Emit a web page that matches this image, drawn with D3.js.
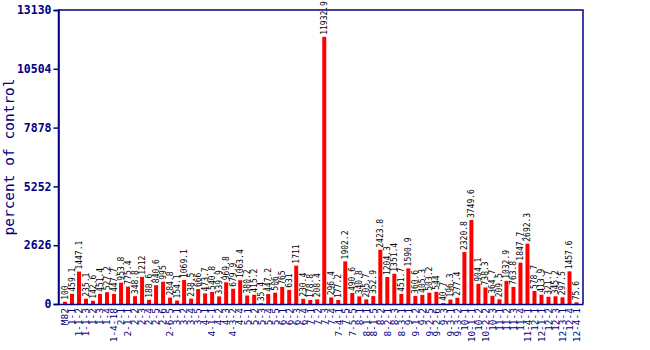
<!DOCTYPE html>
<html>
<head>
<meta charset="utf-8">
<script src="https://cdn.jsdelivr.net/npm/d3@7"></script>
<style>
  html, body { margin: 0; padding: 0; background: #ffffff; }
  svg { display: block; }
</style>
</head>
<body>
<svg id="chart" width="650" height="350"></svg>
<script>
const categories = ["M82","1-1","1-1-2","1-1-3","1-2","1-3","1-4","1-4-18","2-1","2-1-1","2-2","2-3","2-4","2-5","2-6","2-6-5","3-1","3-2","3-4","3-5","4-1","4-1-1","4-2","4-3","4-3-2","4-4","5-1","5-2","5-3","5-4","5-5","6-1","6-2","6-3","6-4","7-1","7-2","7-3","7-4","7-4-1","7-5","7-5-5","8-1","8-1-1","8-1-5","8-2","8-2-1","8-3","8-3-1","9-1","9-1-2","9-2","9-2-5","9-2-6","9-3","9-3-1","9-3-2","10-1","10-1-1","10-2","10-2-2","10-3","11-1","11-2","11-3","11-4","11-4-1","12-1","12-1-1","12-2","12-3","12-3-1","12-4","12-4-1"];
const values = [100,459.1,1447.1,235.1,142.6,451.4,527.2,447.7,953.8,775.4,348.8,1212,188.6,840.6,995,284.8,154.1,1069.1,238.5,666,473.7,540.8,339.9,969.8,679.9,1063.4,380.2,415.2,35.4,447.2,506,765,631,1711,230.4,178.8,208.4,11932.9,296.4,177.2,1902.2,490.6,340.8,205.7,352.9,2423.8,1204.3,1351.4,451.7,1590.9,360.6,405.3,503.2,544,40.7,196.3,277.4,2320.8,3749.6,904.1,738.3,364.7,209.5,1032.9,763.8,1847.7,2692.3,578.7,413.9,321.7,345.2,297.5,1457.6,75.6];
const yTicks = [0,2626,5252,7878,10504,13130];
const yTitle = "percent of control";

const mLeft = 58.5, mRight = 583, mTop = 10, mBottom = 304;
const navy = "#000080";
const mono = "'DejaVu Sans Mono', 'Liberation Mono', monospace";

const svg = d3.select("#chart");

const x = d3.scaleBand().domain(categories).range([mLeft, mRight])
  .paddingInner(0.43).paddingOuter(0.64);
const y = d3.scaleLinear().domain([0, 13130]).range([mBottom, mTop]);

const data = categories.map((c, i) => ({ c, v: values[i] }));

// bars
svg.append("g").selectAll("rect").data(data).join("rect")
  .attr("x", d => x(d.c))
  .attr("y", d => y(d.v))
  .attr("width", x.bandwidth())
  .attr("height", d => mBottom - y(d.v))
  .attr("fill", "#ff0000");

// value labels
svg.append("g").selectAll("text").data(data).join("text")
  .attr("transform", d => `translate(${x(d.c) + x.bandwidth() / 2},${y(d.v) - 2}) rotate(-90)`)
  .attr("dy", "0.35em")
  .attr("text-anchor", "start")
  .attr("font-family", mono)
  .attr("font-size", "8px")
  .attr("fill", "#000000")
  .text(d => String(d.v));

// frame
svg.append("path")
  .attr("d", `M${mLeft},${mBottom}V${mTop}H${mRight}V${mBottom}`)
  .attr("fill", "none").attr("stroke", navy).attr("stroke-width", 1.5);

// y axis
const yAxis = d3.axisLeft(y).tickValues(yTicks).tickSize(5).tickPadding(2).tickFormat(d3.format("d"));
const gy = svg.append("g").attr("transform", `translate(${mLeft},0)`).call(yAxis);
gy.select(".domain").attr("stroke", navy).attr("stroke-width", 1.5);
gy.selectAll(".tick line").attr("stroke", navy).attr("stroke-width", 1.5);
gy.selectAll(".tick text").attr("fill", navy).attr("font-family", mono)
  .attr("font-size", "11.5px").attr("font-weight", "bold");

// x axis
const xAxis = d3.axisBottom(x).tickSize(0).tickPadding(0);
const gx = svg.append("g").attr("transform", `translate(0,${mBottom})`).call(xAxis);
gx.select(".domain").attr("stroke", navy).attr("stroke-width", 1.5);
gx.selectAll(".tick text")
  .attr("transform", "translate(0,4) rotate(-90)")
  .attr("x", 0).attr("y", 0).attr("dy", "0.35em")
  .attr("text-anchor", "end")
  .attr("fill", navy).attr("font-family", mono).attr("font-size", "9.5px");

// y title
svg.append("text")
  .attr("transform", `translate(14,${(mTop + mBottom) / 2}) rotate(-90)`)
  .attr("text-anchor", "middle")
  .attr("font-family", mono).attr("font-size", "14.5px")
  .attr("fill", navy)
  .text(yTitle);
</script>
</body>
</html>
